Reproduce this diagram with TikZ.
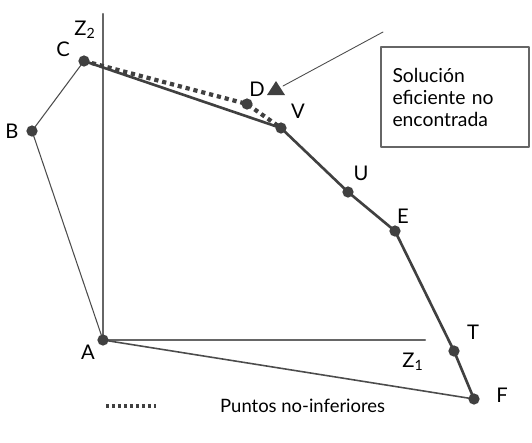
\documentclass[tikz,border=0pt]{standalone}
\usepackage{fontspec}
\setmainfont{Lato}
\begin{document}
\begin{tikzpicture}[x=0.02cm, y=-0.02cm, font=\fontsize{11.5}{13}\selectfont, line join=round, line cap=round]
		\useasboundingbox (0,0) rectangle (532,443);
		% PUNTOS
		\coordinate (A) at (103,340); \coordinate (B) at (32,131);
		\coordinate (C) at (84,61);   \coordinate (D) at (247,104);
		\coordinate (V) at (281,128); \coordinate (U) at (348,192);
		\coordinate (E) at (395,231); \coordinate (T) at (454,351);
		\coordinate (F) at (474,399);
		\coordinate (Z2) at (103,14); \coordinate (Z1) at (425,340);
		
		% EJES
		\draw[black!60, line width=1.3pt] (Z2) -- (A) -- (Z1);
		\node at (85,30) {Z\textsubscript{2}};
		\node at (413,362) {Z\textsubscript{1}};
		
		% LADOS
		\draw[black!70, line width=0.6pt] (C) -- (B) -- (A);
		\draw[black!70, line width=0.9pt] (A) -- (F);
		\draw[black!75, line width=1.5pt] (C) -- (V) -- (U) -- (E) -- (T) -- (F);
		\draw[black!75, line width=2.4pt, line cap=butt, dash pattern=on 2.4pt off 2.2pt] (C) -- (D) -- (V);
		
		% SOLUCION NO ENCONTRADA
		\coordinate (P) at (276,81);
		\fill[black!75] (P) -- (285,95) -- (267,95) -- cycle;
		\node[draw=black!60, line width=0.6pt, minimum width=148*0.02cm, minimum height=100*0.02cm,
			align=left, text width=125*0.02cm, inner sep=0pt, font=\fontsize{11}{12.5}\selectfont] (caja) at (455,97)
			{Solución\\eficiente no\\encontrada};
		\coordinate (Q) at (383,32);
		\draw[black!70, line width=0.5pt] (Q) -- (283,86);
		
		% PUNTOS Y ETIQUETAS
		\foreach \p/\x/\y in {A/88/352, B/12/131, C/63/49, D/257/89, V/298/111, U/361/173, E/403/216, T/473/332, F/502/395} {
			\fill[black!75] (\p) circle (3.2pt);
			\node at (\x,\y) {\p};
		}
		
		% LEYENDA
		\coordinate (L1) at (106,406); \coordinate (L2) at (156,406);
		\draw[black!75, line width=1.8pt, line cap=butt, dash pattern=on 1.8pt off 1.6pt] (L1) -- (L2);
		\node[anchor=west, font=\fontsize{10.5}{12}\selectfont] (ley) at (214,406) {Puntos no-inferiores};
	\end{tikzpicture}
\end{document}
